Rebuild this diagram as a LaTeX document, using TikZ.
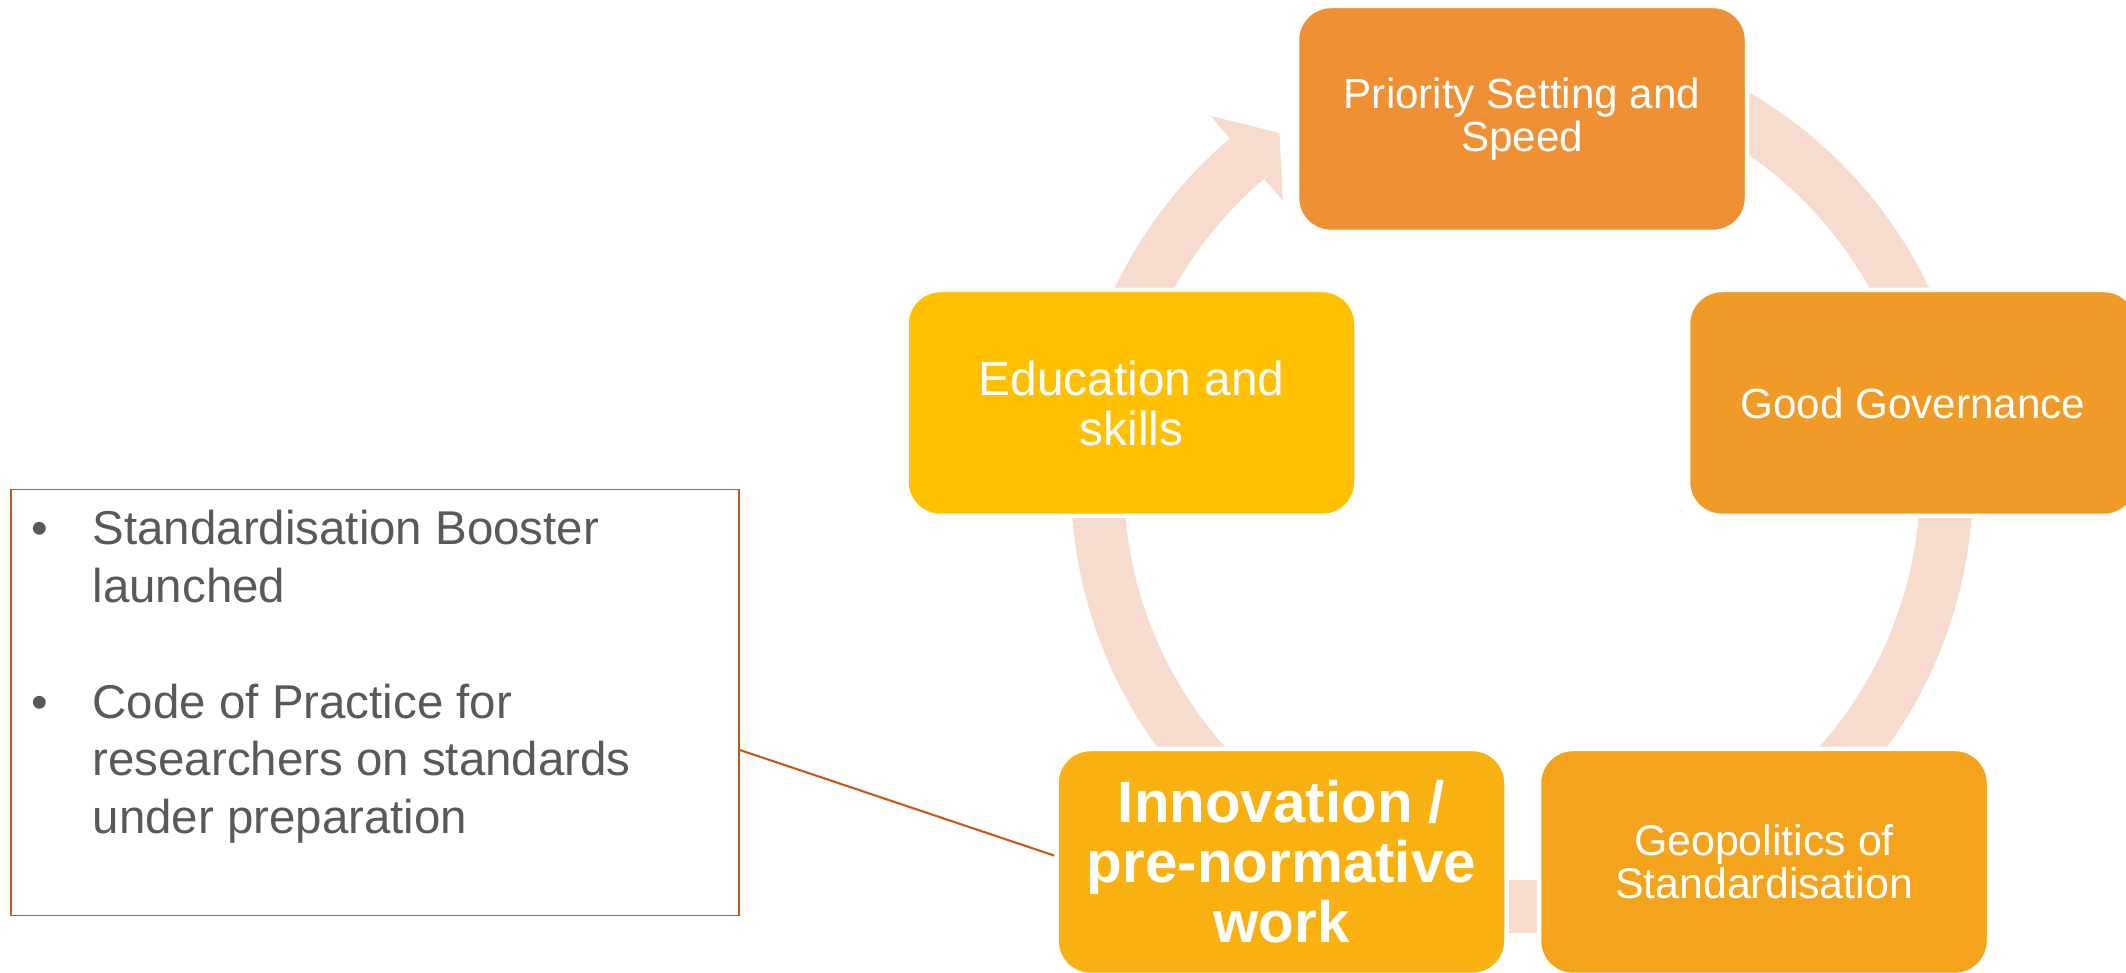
\documentclass[tikz,border=0pt]{standalone}
\usepackage{fontspec}
\setmainfont{Liberation Sans}
\usetikzlibrary{calc}
\definecolor{cPri}{HTML}{EE9033}
\definecolor{cGov}{HTML}{F09A28}
\definecolor{cGeo}{HTML}{F4A41C}
\definecolor{cInn}{HTML}{F8B111}
\definecolor{cEdu}{HTML}{FFC000}
\definecolor{cBand}{HTML}{F7DBCE}
\definecolor{cLine}{HTML}{C55A11}
\definecolor{cText}{HTML}{595959}
\newcommand\bulletmark{\llap{\makebox[0.61cm][l]{\textbullet}}}
\tikzset{
  cyclebox/.style={rectangle, rounded corners=0.34cm, minimum width=4.50cm, minimum height=2.26cm,
    draw=white, line width=0.045cm, text=white, align=center, inner sep=0pt},
  band/.style={draw=cBand, line width=0.53cm},
  bandhead/.style={fill=cBand},
  notebox/.style={rectangle, draw=cLine, line width=0.5pt, minimum width=7.28cm, minimum height=4.26cm, inner sep=0pt},
  notetext/.style={text=cText, inner sep=0pt, font=\fontsize{13.5}{16.4}\selectfont},
  conn/.style={draw=cLine, line width=0.6pt}
}
\begin{document}
\begin{tikzpicture}
\useasboundingbox (0,0) rectangle (21.26,9.73);
\clip (0,0) rectangle (21.26,9.73);
\coordinate (C) at (15.22,4.91);
% cycle band
\draw[band] ($(C)+(129.8:4.245)$) arc[start angle=129.8, end angle=435, radius=4.245];
\fill[bandhead] ($(C)+(130.4:4.81)$) -- ($(C)+(124.8:4.25)$) -- ($(C)+(130.4:3.69)$) -- cycle;
% boxes
\node[cyclebox, fill=cPri, font=\fontsize{12}{12.3}\selectfont] (pri) at (15.22,8.54) {Priority Setting and\\Speed};
\node[cyclebox, fill=cGov, font=\fontsize{12}{12.3}\selectfont] (gov) at (19.13,5.70) {Good Governance};
\node[cyclebox, fill=cGeo, font=\fontsize{12.2}{12.3}\selectfont] (geo) at (17.64,1.11) {Geopolitics of\\Standardisation};
\node[cyclebox, fill=cInn, font=\bfseries\fontsize{16.6}{17.1}\selectfont] (inn) at (12.815,1.11) {Innovation /\\pre-normative\\work};
\node[cyclebox, fill=cEdu, font=\fontsize{13.6}{14.2}\selectfont] (edu) at (11.315,5.70) {Education and\\skills};
% notes
\node[notebox] (notes) at (3.749,2.705) {};
\node[notetext, anchor=base west] (ntext) at (0.92,4.28) {\vtop{\baselineskip=0.577cm\lineskiplimit=0pt
  \hbox{\bulletmark Standardisation Booster}
  \hbox{launched}
  \hbox{}
  \hbox{\bulletmark Code of Practice for}
  \hbox{researchers on standards}
  \hbox{under preparation}}};
\draw[conn] ([yshift=-0.475cm]notes.east) -- ([yshift=0.064cm]inn.west);
\end{tikzpicture}
\end{document}
